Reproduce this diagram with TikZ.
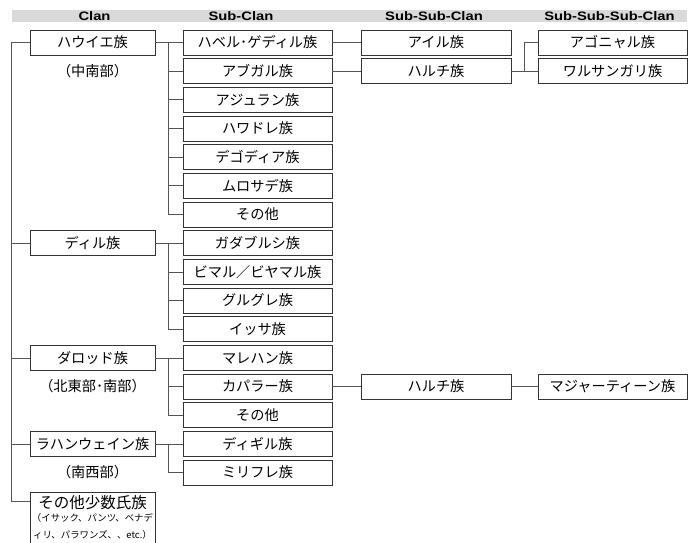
\documentclass[tikz,border=0pt]{standalone}
\usepackage{fontspec}
\setmainfont{Noto Sans CJK JP}
\newfontfamily\hdrfont[FakeStretch=1.2]{Liberation Sans Bold}
\definecolor{boxline}{HTML}{333333}
\definecolor{conn}{HTML}{555555}
\definecolor{bar}{HTML}{D9D9D9}
\begin{document}
\begin{tikzpicture}[x=1pt,y=-1pt,
  box/.style={draw=boxline,line width=0.8pt,minimum height=25pt,inner sep=0pt,
    font=\fontsize{14.2}{16}\selectfont},
  clanbox/.style={box,minimum width=125pt},
  subbox/.style={box,minimum width=149pt},
  s2box/.style={box,minimum width=150pt},
  s3box/.style={box,minimum width=149pt},
  hdr/.style={font=\hdrfont\fontsize{12.3}{14}\selectfont,inner sep=0pt},
  note/.style={font=\fontsize{14.2}{16}\selectfont,inner sep=0pt},
  cn/.style={draw=conn,line width=0.8pt}]
\useasboundingbox (0,0) rectangle (689,542);
\clip (0,0) rectangle (689,542);
% header bar
\fill[bar] (12,10) rectangle (687,22);
\node[hdr] (h1) at (94.5,16) {Clan};
\node[hdr] (h2) at (241,16) {Sub-Clan};
\node[hdr] (h3) at (434,16) {Sub-Sub-Clan};
\node[hdr] (h4) at (609.5,16) {Sub-Sub-Sub-Clan};
% clans
\node[clanbox] (hawiye) at (92.5,42.5) {ハウイエ族};
\node[note] (n1) at (92.5,71.2) {（中南部）};
\node[clanbox] (dir) at (92.5,243.2) {ディル族};
\node[clanbox] (darod) at (92.5,357.9) {ダロッド族};
\node[note] (n2) at (92.5,386.5) {（北東部･南部）};
\node[clanbox] (rahan) at (92.5,443.9) {ラハンウェイン族};
\node[note] (n3) at (92.5,472.5) {（南西部）};
\node[draw=boxline,line width=0.8pt,minimum width=125pt,minimum height=62pt,anchor=north,inner sep=0pt] (minor) at (92.5,492) {};
\node[inner sep=0pt,font=\fontsize{15.5}{17}\selectfont] (m1) at (92.5,503) {その他少数氏族};
\node[inner sep=0pt,font=\fontsize{9.4}{11}\selectfont] (m2) at (92.5,518) {（イサック、パンツ、ベナデ};
\node[inner sep=0pt,font=\fontsize{9.4}{11}\selectfont] (m3) at (92.5,535) {ィリ、パラワンズ、、etc.）};
% sub-clans
\node[subbox] (s0) at (257.5,42.5) {ハベル･ゲディル族};
\node[subbox] (s1) at (257.5,71.2) {アブガル族};
\node[subbox] (s2) at (257.5,99.8) {アジュラン族};
\node[subbox] (s3) at (257.5,128.5) {ハワドレ族};
\node[subbox] (s4) at (257.5,157.2) {デゴディア族};
\node[subbox] (s5) at (257.5,185.8) {ムロサデ族};
\node[subbox] (s6) at (257.5,214.5) {その他};
\node[subbox] (s7) at (257.5,243.2) {ガダブルシ族};
\node[subbox] (s8) at (257.5,271.9) {ビマル／ビヤマル族};
\node[subbox] (s9) at (257.5,300.5) {グルグレ族};
\node[subbox] (s10) at (257.5,329.2) {イッサ族};
\node[subbox] (s11) at (257.5,357.9) {マレハン族};
\node[subbox] (s12) at (257.5,386.5) {カパラー族};
\node[subbox] (s13) at (257.5,415.2) {その他};
\node[subbox] (s14) at (257.5,443.9) {ディギル族};
\node[subbox] (s15) at (257.5,472.5) {ミリフレ族};
% sub-sub
\node[s2box] (a0) at (436,42.5) {アイル族};
\node[s2box] (a1) at (436,71.2) {ハルチ族};
\node[s2box] (a12) at (436,386.5) {ハルチ族};
% sub-sub-sub
\node[s3box] (b0) at (612.5,42.5) {アゴニャル族};
\node[s3box] (b1) at (612.5,71.2) {ワルサンガリ族};
\node[s3box] (b12) at (612.5,386.5) {マジャーティーン族};
% trunk
\draw[cn] ([yshift=-9pt]minor.north west) -- ++(-18,0) |- (hawiye.west);
\foreach \c in {dir,darod,rahan}{\draw[cn] (\c.west) -- ++(-18,0);}
% clan -> sub-clan
\draw[cn] (hawiye.east) -- ++(13,0) coordinate (jh);
\foreach \s in {s0,s1,s2,s3,s4,s5,s6}{\draw[cn] (jh) |- (\s.west);}
\draw[cn] (dir.east) -- ++(13,0) coordinate (jd);
\foreach \s in {s7,s8,s9,s10}{\draw[cn] (jd) |- (\s.west);}
\draw[cn] (darod.east) -- ++(13,0) coordinate (jr);
\foreach \s in {s11,s12,s13}{\draw[cn] (jr) |- (\s.west);}
\draw[cn] (rahan.east) -- ++(13,0) coordinate (jw);
\foreach \s in {s14,s15}{\draw[cn] (jw) |- (\s.west);}
% sub -> sub-sub
\draw[cn] (s0.east) -- (a0.west);
\draw[cn] (s1.east) -- (a1.west);
\draw[cn] (s12.east) -- (a12.west);
% sub-sub -> sub-sub-sub
\draw[cn] (a1.east) -- ++(13,0) coordinate (ja);
\draw[cn] (ja) |- (b0.west);
\draw[cn] (ja) |- (b1.west);
\draw[cn] (a12.east) -- (b12.west);
\end{tikzpicture}
\end{document}
